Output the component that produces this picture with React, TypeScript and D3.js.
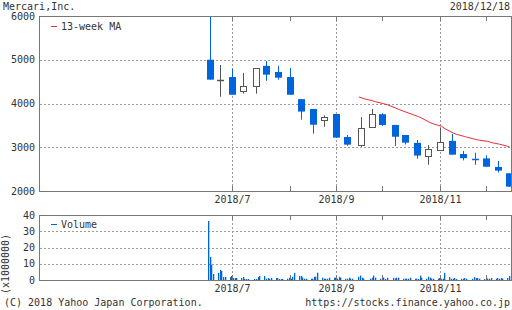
import React from "react";
import * as d3 from "d3";

// ---- Data ----
const weekDates = ["2018-06-19","2018-06-25","2018-07-02","2018-07-09","2018-07-17","2018-07-23","2018-07-30","2018-08-06","2018-08-13","2018-08-20","2018-08-27","2018-09-03","2018-09-10","2018-09-18","2018-09-25","2018-10-01","2018-10-09","2018-10-15","2018-10-22","2018-10-29","2018-11-05","2018-11-12","2018-11-19","2018-11-26","2018-12-03","2018-12-10","2018-12-17"];
const opens = [5000,4525,4605,4280,4395,4860,4720,4605,4100,3875,3615,3760,3235,3045,3455,3755,3510,3280,3100,2795,2930,3145,2845,2735,2745,2550,2405];
const highs = [6000,4880,4790,4700,4810,4970,4860,4810,4100,3875,3730,3760,3280,3690,3875,3775,3510,3280,3165,3050,3455,3305,2915,2875,2815,2685,2405];
const lows = [4545,4155,4200,4225,4225,4520,4545,4200,3630,3310,3470,3220,3035,3010,3455,3490,3030,3065,2740,2600,2930,2830,2700,2600,2555,2420,2090];
const closes = [4545,4535,4200,4400,4810,4660,4590,4200,3815,3515,3685,3220,3060,3435,3755,3510,3240,3105,2810,2955,3115,2830,2750,2725,2555,2465,2100];

const maDates = ["2018-09-18","2018-09-21","2018-09-26","2018-09-28","2018-10-03","2018-10-05","2018-10-10","2018-10-12","2018-10-17","2018-10-19","2018-10-24","2018-10-26","2018-10-31","2018-11-02","2018-11-07","2018-11-09","2018-11-14","2018-11-16","2018-11-21","2018-11-22","2018-11-28","2018-11-30","2018-12-05","2018-12-07","2018-12-12","2018-12-14","2018-12-18"];
const maValues = [4150,4110,4064,4040,3995,3975,3900,3867,3795,3770,3700,3665,3565,3535,3480,3425,3325,3295,3245,3235,3175,3160,3135,3108,3070,3052,3013];

const volDates = ["2018-06-19","2018-06-20","2018-06-21","2018-06-22","2018-06-25","2018-06-26","2018-06-27","2018-06-28","2018-06-29","2018-07-02","2018-07-03","2018-07-04","2018-07-05","2018-07-06","2018-07-09","2018-07-10","2018-07-11","2018-07-12","2018-07-13","2018-07-17","2018-07-18","2018-07-19","2018-07-20","2018-07-23","2018-07-24","2018-07-25","2018-07-26","2018-07-27","2018-07-30","2018-07-31","2018-08-01","2018-08-02","2018-08-03","2018-08-06","2018-08-07","2018-08-08","2018-08-09","2018-08-10","2018-08-13","2018-08-14","2018-08-15","2018-08-16","2018-08-17","2018-08-20","2018-08-21","2018-08-22","2018-08-23","2018-08-24","2018-08-27","2018-08-28","2018-08-29","2018-08-30","2018-08-31","2018-09-03","2018-09-04","2018-09-05","2018-09-06","2018-09-07","2018-09-10","2018-09-11","2018-09-12","2018-09-13","2018-09-14","2018-09-18","2018-09-19","2018-09-20","2018-09-21","2018-09-25","2018-09-26","2018-09-27","2018-09-28","2018-10-01","2018-10-02","2018-10-03","2018-10-04","2018-10-05","2018-10-09","2018-10-10","2018-10-11","2018-10-12","2018-10-15","2018-10-16","2018-10-17","2018-10-18","2018-10-19","2018-10-22","2018-10-23","2018-10-24","2018-10-25","2018-10-26","2018-10-29","2018-10-30","2018-10-31","2018-11-01","2018-11-02","2018-11-05","2018-11-06","2018-11-07","2018-11-08","2018-11-09","2018-11-12","2018-11-13","2018-11-14","2018-11-15","2018-11-16","2018-11-19","2018-11-20","2018-11-21","2018-11-22","2018-11-26","2018-11-27","2018-11-28","2018-11-29","2018-11-30","2018-12-03","2018-12-04","2018-12-05","2018-12-06","2018-12-07","2018-12-10","2018-12-11","2018-12-12","2018-12-13","2018-12-14","2018-12-17","2018-12-18"];
const volValues = [36.3,14.2,9.3,3.7,4.4,6.2,5.5,1.8,1.8,1.8,2.5,1.2,1.2,1.2,1.2,1.8,0.6,0.6,0.6,0.6,0.6,1.8,2.5,2.5,0.8,1.2,0.6,1.2,1.2,1.2,0.6,0.6,0.6,0.8,1.4,0.8,2.0,4.4,2.5,2.5,1.4,0.8,0.8,0.8,0.8,2.0,2.0,4.5,1.4,0.8,0.8,0.8,1.4,1.4,1.4,0.8,2.0,1.4,0.8,0.8,1.4,0.8,0.8,2.0,2.7,1.4,0.8,0.8,1.4,2.7,1.4,0.8,2.0,1.4,0.6,1.4,1.4,1.0,1.4,1.4,0.8,0.8,0.8,0.8,1.4,0.8,0.8,0.6,2.7,1.4,0.8,2.0,1.4,0.8,0.8,0.8,1.2,0.8,0.8,4.4,1.8,0.8,0.8,1.2,0.6,0.8,0.8,1.2,0.8,0.8,1.8,1.2,1.2,0.8,0.6,1.2,0.8,0.8,1.2,0.8,1.2,0.8,1.2,0.8,1.2,2.5];

const tickDates = ["2018-07-02","2018-08-06","2018-09-03","2018-10-01","2018-11-05","2018-12-03"];
const tickLabels = ["2018/7","","2018/9","","2018/11",""];
const priceTicks = [2000,3000,4000,5000,6000];
const volTicks = [0,10,20,30,40];

// ---- Style / layout ----
const W = 512, H = 310;
const L = 40, R = 511;
const T1 = 16, B1 = 191;
const T2 = 215, B2 = 280;
const FONT = "'DejaVu Sans Mono', monospace";
const TXT = "#333";
const FRAME = "#777";
const GRID = "#999";
const DOWN = "#0064dc";
const UPS = "#555";
const MA = "#e8303a";

const parse = d3.timeParse("%Y-%m-%d");

export default function App() {
  const x = d3.scaleTime().domain([new Date(2018, 2, 9), new Date(2018, 11, 19)]).range([L, R]);
  const y = d3.scaleLinear().domain([2000, 6000]).range([B1, T1]);
  const yv = d3.scaleLinear().domain([0, 40]).range([B2, T2]);
  const cx = (s: string) => x(d3.timeDay.offset(parse(s)!, 1));

  const maLine = d3.line<number>()
    .x((_, i) => x(parse(maDates[i])!))
    .y((v) => y(v));

  const ticks = tickDates.map((s, i) => ({ px: Math.round(cx(s)) + 0.5, label: tickLabels[i] }));

  const frame = (top: number, bot: number) => (
    <rect x={L - 0.5} y={top + 0.5} width={R - L + 1} height={bot - top} fill="none" stroke={FRAME} strokeWidth={1} />
  );

  return (
    <svg width={W} height={H} style={{ position: "fixed", left: 0, top: 0, background: "#fff" }} fontFamily={FONT} fontSize={10}>
      <rect x={0} y={0} width={W} height={H} fill="#fff" />
      {/* header */}
      <text x={3} y={10} fill={TXT}>Mercari,Inc.</text>
      <text x={510} y={10} fill={TXT} textAnchor="end">2018/12/18</text>

      {/* main gridlines */}
      {priceTicks.filter((v) => v > 2000 && v < 6000).map((v) => (
        <line key={v} x1={L} x2={R} y1={Math.round(y(v)) + 0.5} y2={Math.round(y(v)) + 0.5} stroke={GRID} strokeDasharray="2,2" />
      ))}
      {ticks.filter((t) => t.label).map((t) => (
        <line key={"g" + t.px} x1={t.px} x2={t.px} y1={T1} y2={B1} stroke={GRID} strokeDasharray="2,2" />
      ))}
      {/* volume gridlines */}
      {volTicks.filter((v) => v > 0 && v < 40).map((v) => (
        <line key={"v" + v} x1={L} x2={R} y1={Math.round(yv(v)) + 0.5} y2={Math.round(yv(v)) + 0.5} stroke={GRID} strokeDasharray="2,2" />
      ))}
      {ticks.filter((t) => t.label).map((t) => (
        <line key={"gv" + t.px} x1={t.px} x2={t.px} y1={T2} y2={B2} stroke={GRID} strokeDasharray="2,2" />
      ))}

      {/* MA line */}
      <path d={maLine(maValues) || ""} fill="none" stroke={MA} strokeWidth={1} />

      {/* candles */}
      {weekDates.map((s, i) => {
        const c = Math.round(cx(s));
        const o = opens[i], cl = closes[i];
        const up = cl >= o;
        const col = up ? UPS : DOWN;
        const yo = y(o), yc = y(cl);
        const yh = y(highs[i]), yl = y(lows[i]);
        const top = Math.min(yo, yc), bot = Math.max(yo, yc);
        const doji = bot - top < 1.5;
        return (
          <g key={s}>
            <line x1={c + 0.5} x2={c + 0.5} y1={yh} y2={yl} stroke={col} strokeWidth={1} />
            {doji ? (
              <line x1={c - 3} x2={c + 4} y1={Math.round(top) + 0.5} y2={Math.round(top) + 0.5} stroke={col} strokeWidth={1.5} />
            ) : up ? (
              <rect x={c - 2.5} y={Math.round(top) + 0.5} width={6} height={Math.round(bot - top)} fill="#fff" stroke={UPS} strokeWidth={1} />
            ) : (
              <rect x={c - 3} y={top} width={7} height={bot - top} fill={DOWN} />
            )}
          </g>
        );
      })}

      {/* volume bars */}
      {volDates.map((s, i) => {
        const px = Math.floor(x(parse(s)!));
        return <rect key={s} x={px} y={yv(volValues[i])} width={1.3} height={B2 - yv(volValues[i])} fill={DOWN} />;
      })}

      {/* frames */}
      {frame(T1, B1)}
      {frame(T2, B2)}
      {/* month ticks */}
      {ticks.map((t) => (
        <g key={"t" + t.px}>
          <line x1={t.px} x2={t.px} y1={T1} y2={T1 + 5} stroke={FRAME} />
          <line x1={t.px} x2={t.px} y1={B1} y2={B1 - 5} stroke={FRAME} />
          <line x1={t.px} x2={t.px} y1={T2} y2={T2 + 5} stroke={FRAME} />
          <line x1={t.px} x2={t.px} y1={B2} y2={B2 - 5} stroke={FRAME} />
        </g>
      ))}

      {/* y labels */}
      {priceTicks.map((v) => (
        <text key={"p" + v} x={35} y={y(v)} dy="0.35em" textAnchor="end" fill={TXT}>{v}</text>
      ))}
      {volTicks.map((v) => (
        <text key={"vl" + v} x={35} y={yv(v)} dy="0.35em" textAnchor="end" fill={TXT}>{v}</text>
      ))}
      <text transform="translate(9,264) rotate(-90)" textAnchor="middle" fill={TXT}>(x1000000)</text>

      {/* x labels */}
      {ticks.filter((t) => t.label).map((t) => (
        <g key={"xl" + t.px}>
          <text x={t.px} y={B1 + 12} textAnchor="middle" fill={TXT}>{t.label}</text>
          <text x={t.px} y={B2 + 12} textAnchor="middle" fill={TXT}>{t.label}</text>
        </g>
      ))}

      {/* legends */}
      <line x1={51} x2={57} y1={26.5} y2={26.5} stroke={MA} />
      <text x={61} y={29.5} fill={TXT}>13-week MA</text>
      <line x1={51} x2={57} y1={224.5} y2={224.5} stroke={DOWN} />
      <text x={61} y={228} fill={TXT}>Volume</text>

      {/* footer */}
      <text x={4} y={306} fill={TXT}>(C) 2018 Yahoo Japan Corporation.</text>
      <text x={510} y={306} fill={TXT} textAnchor="end">https://stocks.finance.yahoo.co.jp</text>
    </svg>
  );
}
